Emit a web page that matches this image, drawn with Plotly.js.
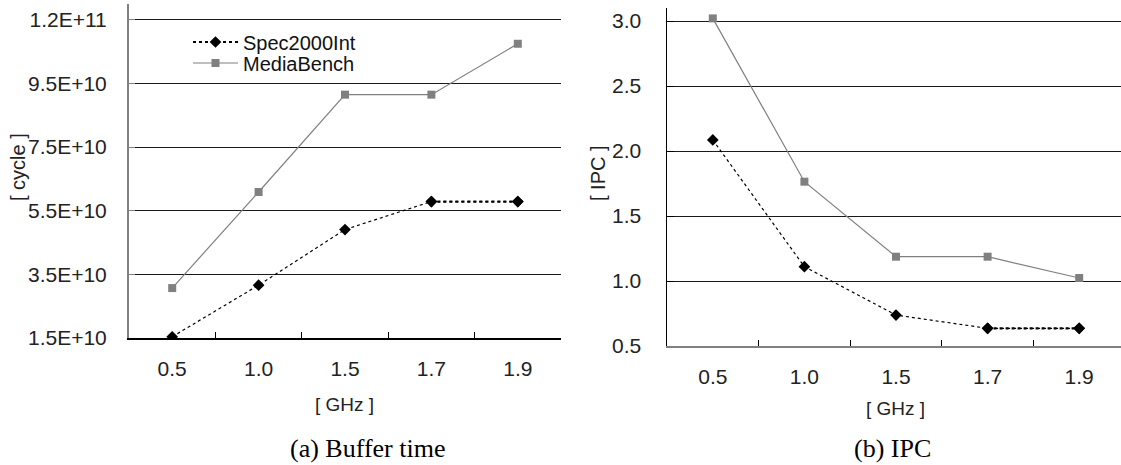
<!DOCTYPE html>
<html>
<head>
<meta charset="utf-8">
<script src="https://cdn.plot.ly/plotly-3.0.1.min.js"></script>
<style>
html,body{margin:0;padding:0;overflow:hidden;background:#fff;}
#chart{width:1126px;height:465px;}
</style>
</head>
<body>
<div id="chart"></div>
<script>
const freqs = ['0.5', '1.0', '1.5', '1.7', '1.9'];
const seriesNames = ['Spec2000Int', 'MediaBench'];
// (a) Buffer time [cycle]
const bufSpec = [1.54e10, 3.16e10, 4.91e10, 5.79e10, 5.79e10];
const bufMedia = [3.07e10, 6.09e10, 9.15e10, 9.15e10, 1.075e11];
// (b) IPC
const ipcSpec = [2.085, 1.11, 0.738, 0.636, 0.636];
const ipcMedia = [3.02, 1.764, 1.187, 1.187, 1.023];
// y tick labels
const bufTickVals = [1.5e10, 3.5e10, 5.5e10, 7.5e10, 9.5e10, 1.15e11];
const bufTickText = ['1.5E+10', '3.5E+10', '5.5E+10', '7.5E+10', '9.5E+10', '1.2E+11'];
const ipcTickVals = [0.5, 1.0, 1.5, 2.0, 2.5, 3.0];
const ipcTickText = ['0.5', '1.0', '1.5', '2.0', '2.5', '3.0'];
const captions = ['(a) Buffer time', '(b) IPC'];
const xTitle = '[ GHz ]';
const yTitles = ['[ cycle ]', '[ IPC ]'];

const W = 1126, H = 465;
const px = v => v / W;
const py = v => 1 - v / H;

const SANS = '"Liberation Sans", Arial, sans-serif';
const SERIF = '"Liberation Serif", "Times New Roman", serif';
const specColor = '#000000';
const mediaColor = '#808080';

function specTraces(ys, xa, ya, legend) {
  return [
    {x: freqs, y: ys, xaxis: xa, yaxis: ya, type: 'scatter', mode: 'lines+markers',
     name: seriesNames[0], showlegend: false,
     line: {color: specColor, width: 1.2, dash: 'dot'},
     marker: {symbol: 'diamond', size: 9, color: specColor}},
    {x: freqs.slice(3), y: ys.slice(3), xaxis: xa, yaxis: ya, type: 'scatter', mode: 'lines+markers',
     name: seriesNames[0], showlegend: legend, legend: 'legend',
     line: {color: specColor, width: 2.2, dash: '3px,3px'},
     marker: {symbol: 'diamond', size: 9, color: specColor}}
  ];
}
function mediaTrace(ys, xa, ya, legend) {
  return {x: freqs, y: ys, xaxis: xa, yaxis: ya, type: 'scatter', mode: 'lines+markers',
    name: seriesNames[1], showlegend: legend, legend: 'legend2',
    line: {color: mediaColor, width: 1.2},
    marker: {symbol: 'square', size: 8, color: mediaColor}};
}

const data = [
  mediaTrace(bufMedia, 'x', 'y', true),
  ...specTraces(bufSpec, 'x', 'y', true),
  mediaTrace(ipcMedia, 'x2', 'y2', false),
  ...specTraces(ipcSpec, 'x2', 'y2', false)
];

const tickFont = {family: SANS, size: 21, color: '#222'};
function xAxis(domain, anchor, lineColor) {
  return {
    domain: domain, anchor: anchor, type: 'category',
    categoryorder: 'array', categoryarray: freqs,
    range: [-0.5, 4.5],
    showline: true, linecolor: lineColor, linewidth: 1.5,
    ticks: 'inside', tickson: 'boundaries', ticklen: 6, tickcolor: '#000', tickwidth: 1,
    showgrid: false, zeroline: false,
    tickfont: tickFont, ticklabelstandoff: 11
  };
}
function legendBox(yc) {
  return {x: px(188), y: py(yc), xanchor: 'left', yanchor: 'middle',
    font: {family: SANS, size: 20, color: '#111'}, bgcolor: 'rgba(0,0,0,0)',
    itemwidth: 45, borderwidth: 0};
}
const layout = {
  width: W, height: H,
  margin: {l: 0, r: 0, t: 0, b: 0},
  paper_bgcolor: '#fff', plot_bgcolor: '#fff',
  showlegend: true,
  legend: legendBox(42),
  legend2: legendBox(63),
  xaxis: xAxis([px(129), px(561)], 'y', '#000'),
  yaxis: {
    domain: [py(338), py(4)], anchor: 'x',
    range: [1.5e10, 1.2e11],
    tickvals: bufTickVals, ticktext: bufTickText,
    showline: true, linecolor: '#808080', linewidth: 2,
    ticks: 'inside', ticklen: 6, tickcolor: '#808080',
    showgrid: true, gridcolor: '#1a1a1a', gridwidth: 1, zeroline: false,
    tickfont: tickFont, ticklabelstandoff: 16
  },
  xaxis2: xAxis([px(667), px(1125)], 'y2', '#808080'),
  yaxis2: {
    domain: [py(346), py(8)], anchor: 'x2',
    range: [0.5, 3.1],
    tickvals: ipcTickVals, ticktext: ipcTickText,
    showline: true, linecolor: '#000', linewidth: 1.5,
    ticks: 'inside', ticklen: 7, tickcolor: '#000',
    showgrid: true, gridcolor: '#1a1a1a', gridwidth: 1, zeroline: false,
    tickfont: tickFont, ticklabelstandoff: 20
  },
  annotations: [
    {text: yTitles[0], xref: 'paper', yref: 'paper', x: px(18), y: py(167), textangle: -90,
     showarrow: false, xanchor: 'center', yanchor: 'middle', font: {family: SANS, size: 20, color: '#222'}},
    {text: yTitles[1], xref: 'paper', yref: 'paper', x: px(598), y: py(173), textangle: -90,
     showarrow: false, xanchor: 'center', yanchor: 'middle', font: {family: SANS, size: 20, color: '#222'}},
    {text: xTitle, xref: 'paper', yref: 'paper', x: px(344), y: py(404),
     showarrow: false, xanchor: 'center', yanchor: 'middle', font: {family: SANS, size: 19, color: '#222'}},
    {text: xTitle, xref: 'paper', yref: 'paper', x: px(895), y: py(408),
     showarrow: false, xanchor: 'center', yanchor: 'middle', font: {family: SANS, size: 19, color: '#222'}},
    {text: captions[0], xref: 'paper', yref: 'paper', x: px(367), y: py(448),
     showarrow: false, xanchor: 'center', yanchor: 'middle', font: {family: SERIF, size: 26, color: '#000'}},
    {text: captions[1], xref: 'paper', yref: 'paper', x: px(892), y: py(448),
     showarrow: false, xanchor: 'center', yanchor: 'middle', font: {family: SERIF, size: 26, color: '#000'}}
  ]
};
Plotly.newPlot('chart', data, layout, {displayModeBar: false, staticPlot: true});
</script>
</body>
</html>
